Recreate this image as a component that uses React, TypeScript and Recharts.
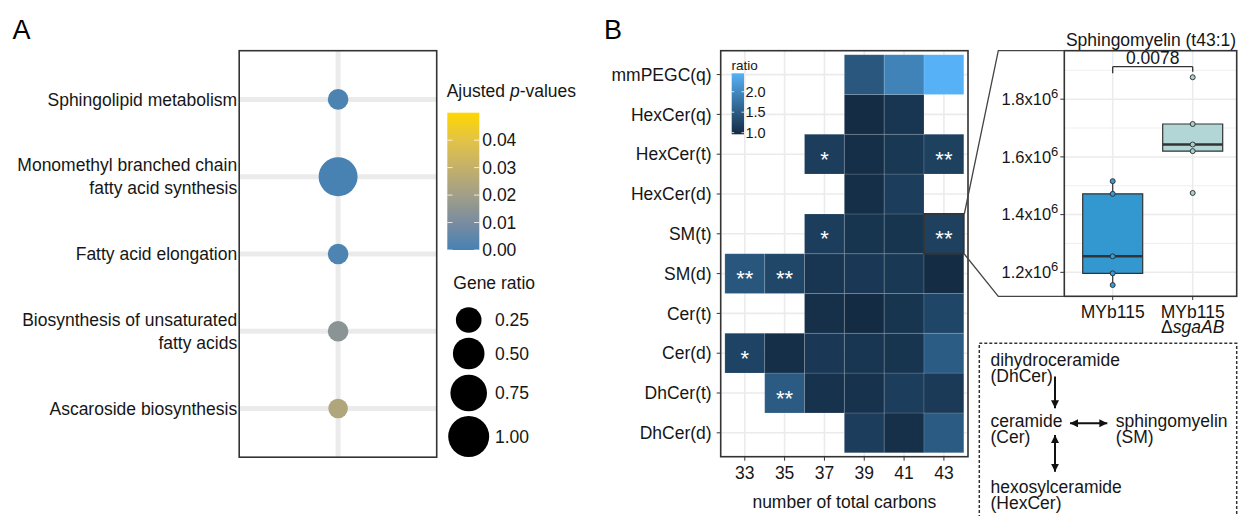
import React from "react";
import {
  ScatterChart,
  ComposedChart,
  Scatter,
  XAxis,
  YAxis,
  ZAxis,
  Cell,
  CartesianGrid,
  ReferenceArea,
  ReferenceLine,
} from "recharts";

const FONT = '"Liberation Sans", Arial, Helvetica, sans-serif';
const INK = "#161616";
const FRAME = "#333333";
const GRID = "#ebebeb";

// ---------- A: pathway enrichment ----------
const pathways = [
  "Sphingolipid metabolism",
  "Monomethyl branched chain\nfatty acid synthesis",
  "Fatty acid elongation",
  "Biosynthesis of unsaturated\nfatty acids",
  "Ascaroside biosynthesis",
];
const geneRatio = [0.08, 0.88, 0.08, 0.08, 0.05];
const adjP = [0.0012, 0.0003, 0.0015, 0.014, 0.024];
const pTicks = [0, 0.01, 0.02, 0.03, 0.04];
const ratioLegend = [0.25, 0.5, 0.75, 1.0];

// ---------- B: lipid heatmap (rows bottom -> top) ----------
const lipidClasses = [
  "DhCer(d)",
  "DhCer(t)",
  "Cer(d)",
  "Cer(t)",
  "SM(d)",
  "SM(t)",
  "HexCer(d)",
  "HexCer(t)",
  "HexCer(q)",
  "mmPEGC(q)",
];
const carbons = [33, 35, 37, 39, 41, 43];
const ratioDhCerD = [null, null, null, 1.17, 1.02, 1.49];
const ratioDhCerT = [null, 1.49, 1.04, 1.04, 1.16, 1.13];
const ratioCerD = [1.23, 1.01, 1.11, 1.08, 1.07, 1.5];
const ratioCerT = [null, null, 1.02, 0.97, 1.07, 1.26];
const ratioSMD = [1.44, 1.27, 1.08, 1.11, 1.1, 0.98];
const ratioSMT = [null, null, 1.17, 1.07, 1.07, 1.2];
const ratioHexCerD = [null, null, null, 1.01, 1.16, null];
const ratioHexCerT = [null, null, 1.16, 1.0, 1.1, 1.2];
const ratioHexCerQ = [null, null, null, 0.98, 1.08, null];
const ratioMmPEGCQ = [null, null, null, 1.45, 1.94, 2.45];
const ratioRows = [
  ratioDhCerD,
  ratioDhCerT,
  ratioCerD,
  ratioCerT,
  ratioSMD,
  ratioSMT,
  ratioHexCerD,
  ratioHexCerT,
  ratioHexCerQ,
  ratioMmPEGCQ,
];
const signif = [
  { cls: "HexCer(t)", carbon: 37, mark: "*" },
  { cls: "HexCer(t)", carbon: 43, mark: "**" },
  { cls: "SM(t)", carbon: 37, mark: "*" },
  { cls: "SM(t)", carbon: 43, mark: "**" },
  { cls: "SM(d)", carbon: 33, mark: "**" },
  { cls: "SM(d)", carbon: 35, mark: "**" },
  { cls: "Cer(d)", carbon: 33, mark: "*" },
  { cls: "DhCer(t)", carbon: 35, mark: "**" },
];
const zoomTile = { cls: "SM(t)", carbon: 43 };
const ratioTicks = [1.0, 1.5, 2.0];
const ratioDomain = [0.96, 2.45];

// ---------- B: SM(t43:1) boxplot ----------
const strains = ["MYb115", "MYb115"];
const deletions = ["", "sgaAB"];
const smWildtype = [1.516e6, 1.472e6, 1.2555e6, 1.1965e6, 1.156e6];
const smMutant = [1.876e6, 1.714e6, 1.643e6, 1.62e6, 1.475e6];
const smTicks = [1.2e6, 1.4e6, 1.6e6, 1.8e6];
const smMinor = [1.3e6, 1.5e6, 1.7e6, 1.9e6];
const pWilcox = "0.0078";

// ---------- helpers ----------
const hex = (c: string) => [1, 3, 5].map((i) => parseInt(c.slice(i, i + 2), 16));
const mix = (a: string, b: string, t: number) => {
  const k = Math.max(0, Math.min(1, t));
  const pa = hex(a);
  const pb = hex(b);
  return (
    "#" +
    pa
      .map((v, i) => Math.round(v + (pb[i] - v) * k).toString(16).padStart(2, "0"))
      .join("")
  );
};
const pStops: [number, string][] = [
  [0, "#4682B4"],
  [0.01, "#7a8c9f"],
  [0.02, "#a19f87"],
  [0.03, "#c4b06a"],
  [0.04, "#e3c346"],
  [0.05, "#FFD700"],
];
const pColor = (p: number) => {
  for (let i = 1; i < pStops.length; i++) {
    if (p <= pStops[i][0]) {
      const [p0, c0] = pStops[i - 1];
      const [p1, c1] = pStops[i];
      return mix(c0, c1, (p - p0) / (p1 - p0));
    }
  }
  return pStops[pStops.length - 1][1];
};
const HM_LOW = "#132B43";
const HM_HIGH = "#56B1F7";
const hmColor = (v: number) =>
  mix(HM_LOW, HM_HIGH, (v - ratioDomain[0]) / (ratioDomain[1] - ratioDomain[0]));

// gene ratio -> symbol area (same mapping for bubbles and legend)
const AREA_RANGE = [247, 1320];
const areaOf = (r: number) => AREA_RANGE[0] + r * (AREA_RANGE[1] - AREA_RANGE[0]);

const bubbles = pathways.map((_, i) => ({ x: 1, y: i + 1, ratio: geneRatio[i], p: adjP[i] }));

const rowOf = (cls: string) => lipidClasses.indexOf(cls) + 1;
const tiles = ratioRows.flatMap((row, r) =>
  row
    .map((v, j) => (v == null ? null : { x: carbons[j], y: r + 1, v }))
    .filter(Boolean)
) as { x: number; y: number; v: number }[];
const starPoints = signif.map((s) => ({ x: s.carbon, y: rowOf(s.cls), mark: s.mark }));

const quantile = (s: number[], q: number) => {
  const h = (s.length - 1) * q;
  const lo = Math.floor(h);
  return s[lo] + (h - lo) * ((s[lo + 1] ?? s[lo]) - s[lo]);
};
const boxStats = (vals: number[], x: number) => {
  const s = [...vals].sort((a, b) => a - b);
  const q1 = quantile(s, 0.25);
  const med = quantile(s, 0.5);
  const q3 = quantile(s, 0.75);
  const iqr = q3 - q1;
  const inside = s.filter((v) => v >= q1 - 1.5 * iqr && v <= q3 + 1.5 * iqr);
  return { x, q1, med, q3, lo: Math.min(...inside), hi: Math.max(...inside) };
};
const boxes = [boxStats(smWildtype, 1), boxStats(smMutant, 2)];
const boxFill = ["#3398cf", "#b2d6d6"];
const dotFill = ["#3a9bd6", "#a9d0d0"];
const smPoints = [
  ...smWildtype.map((y) => ({ x: 1, y })),
  ...smMutant.map((y) => ({ x: 2, y })),
];
const bracketY = 1.9126e6;

// ---------- ticks / marks ----------
function PathwayTick(props: any) {
  const { x, y, payload } = props;
  const lines = pathways[payload.value - 1].split("\n");
  return (
    <text textAnchor="end" fontSize={17.5} fill={INK}>
      {lines.map((l, i) => (
        <tspan key={i} x={x} y={y + (i - (lines.length - 1) / 2) * 23} dy="0.355em">
          {l}
        </tspan>
      ))}
    </text>
  );
}

function StarMark(props: any) {
  const { cx, cy, payload } = props;
  return (
    <text x={cx} y={cy + 12.5} textAnchor="middle" fontSize={22} fill="#ffffff">
      {payload.mark}
    </text>
  );
}

function SciTick(props: any) {
  const { x, y, payload } = props;
  const m = (payload.value / 1e6).toFixed(1);
  return (
    <text x={x} y={y} dy="0.355em" textAnchor="end" fontSize={16.5} fill={INK}>
      <tspan>{m}x10</tspan>
      <tspan dy={-7} fontSize={13}>
        6
      </tspan>
    </text>
  );
}

function StrainTick(props: any) {
  const { x, y, payload } = props;
  const i = payload.value - 1;
  return (
    <text textAnchor="middle" fontSize={17.5} fill={INK}>
      <tspan x={x} y={y + 16}>
        {strains[i]}
      </tspan>
      {deletions[i] && (
        <tspan x={x} y={y + 31}>
          Δ<tspan fontStyle="italic">{deletions[i]}</tspan>
        </tspan>
      )}
    </text>
  );
}

function SmDot(props: any) {
  const { cx, cy, payload } = props;
  return (
    <circle cx={cx} cy={cy} r={2.5} fill={dotFill[payload.x - 1]} stroke="#2a2a2a" strokeWidth={0.9} />
  );
}

// ---------- overlay geometry (frames, legends, annotations) ----------
const yP = (p: number) => 250 - (p / 0.05) * 137.3;
const yR = (v: number) => 134.3 - ((v - ratioDomain[0]) / (ratioDomain[1] - ratioDomain[0])) * 61;
const legendY = [320, 353.5, 393, 436.5];

function Overlay() {
  return (
    <svg
      width={1238}
      height={516}
      style={{ position: "absolute", left: 0, top: 0, pointerEvents: "none" }}
      fontFamily={FONT}
    >
      <defs>
        <linearGradient id="pgrad" x1="0" y1="1" x2="0" y2="0">
          {pStops.map(([p, c]) => (
            <stop key={p} offset={p / 0.05} stopColor={c} />
          ))}
        </linearGradient>
        <linearGradient id="rgrad" x1="0" y1="1" x2="0" y2="0">
          <stop offset={0} stopColor={HM_LOW} />
          <stop offset={1} stopColor={HM_HIGH} />
        </linearGradient>
        <marker
          id="head"
          markerUnits="userSpaceOnUse"
          markerWidth={9}
          markerHeight={9}
          refX={8}
          refY={4}
          orient="auto-start-reverse"
        >
          <path d="M0,0 L8,4 L0,8 z" fill="#111" />
        </marker>
      </defs>

      {/* panel letters */}
      <text x={12.5} y={38.5} fontSize={27} fill="#000">
        A
      </text>
      <text x={604} y={38.5} fontSize={27} fill="#000">
        B
      </text>

      {/* frames */}
      <rect x={239.2} y={50.7} width={197.5} height={406.5} fill="none" stroke={FRAME} strokeWidth={1.6} />
      <rect x={720.7} y={50.7} width={247.3} height={406} fill="none" stroke={FRAME} strokeWidth={1.6} />
      <rect x={1064.3} y={50.7} width={172.4} height={245.6} fill="none" stroke={FRAME} strokeWidth={1.6} />

      {/* A legends */}
      <text x={446.7} y={97.3} fontSize={17.5} fill={INK}>
        Ajusted <tspan fontStyle="italic">p</tspan>-values
      </text>
      <rect x={447.3} y={112.7} width={32} height={137.3} fill="url(#pgrad)" />
      {pTicks.map((p) => (
        <g key={p}>
          <line x1={447.3} x2={452.5} y1={yP(p)} y2={yP(p)} stroke="#fff" strokeWidth={0.8} />
          <line x1={474.1} x2={479.3} y1={yP(p)} y2={yP(p)} stroke="#fff" strokeWidth={0.8} />
          <text x={482.3} y={yP(p)} dy="0.355em" fontSize={17.5} fill={INK}>
            {p.toFixed(2)}
          </text>
        </g>
      ))}
      <text x={453.3} y={282.7} dy="0.355em" fontSize={17.5} fill={INK}>
        Gene ratio
      </text>
      {ratioLegend.map((r, i) => (
        <g key={r}>
          <circle cx={468.7} cy={legendY[i]} r={Math.sqrt(areaOf(r) / Math.PI)} fill="#000" />
          <text x={495} y={legendY[i]} dy="0.355em" fontSize={17.5} fill={INK}>
            {r.toFixed(2)}
          </text>
        </g>
      ))}

      {/* B heatmap legend */}
      <text x={731.5} y={69.5} fontSize={13.5} fill={INK}>
        ratio
      </text>
      <rect x={731.7} y={73.3} width={12.3} height={61} fill="url(#rgrad)" />
      {ratioTicks.map((v) => (
        <g key={v}>
          <line x1={731.7} x2={734.2} y1={yR(v)} y2={yR(v)} stroke="#fff" strokeWidth={0.8} />
          <line x1={741.5} x2={744} y1={yR(v)} y2={yR(v)} stroke="#fff" strokeWidth={0.8} />
          <text x={745.5} y={yR(v)} dy="0.355em" fontSize={14.5} fill={INK}>
            {v.toFixed(1)}
          </text>
        </g>
      ))}

      {/* zoom connectors */}
      <polyline points="964.3,214 998.3,50.7 1064.3,50.7" fill="none" stroke="#444" strokeWidth={1.3} />
      <polyline points="964.3,254 998.3,296.3 1064.3,296.3" fill="none" stroke="#444" strokeWidth={1.3} />

      {/* boxplot title and p value */}
      <text x={1151} y={46} textAnchor="middle" fontSize={17.5} fill={INK}>
        Sphingomyelin (t43:1)
      </text>
      <text x={1152.7} y={64.3} textAnchor="middle" fontSize={17.5} fill={INK}>
        {pWilcox}
      </text>

      {/* pathway sketch */}
      <rect
        x={979.3}
        y={343.3}
        width={257.4}
        height={200}
        fill="none"
        stroke="#333"
        strokeWidth={1.5}
        strokeDasharray="3 2"
      />
      <g fontSize={17.5} fill={INK}>
        <text x={990.5} y={366}>dihydroceramide</text>
        <text x={990.5} y={382}>(DhCer)</text>
        <text x={990.5} y={427}>ceramide</text>
        <text x={990.5} y={443}>(Cer)</text>
        <text x={1115.7} y={427}>sphingomyelin</text>
        <text x={1115.7} y={443}>(SM)</text>
        <text x={990.5} y={492.5}>hexosylceramide</text>
        <text x={990.5} y={508.5}>(HexCer)</text>
      </g>
      <g stroke="#111" strokeWidth={2}>
        <line x1={1055} y1={376.5} x2={1055} y2={408.3} markerEnd="url(#head)" />
        <line x1={1070} y1={423.3} x2={1107.3} y2={423.3} markerStart="url(#head)" markerEnd="url(#head)" />
        <line x1={1055} y1={435} x2={1055} y2={471.7} markerStart="url(#head)" markerEnd="url(#head)" />
      </g>
    </svg>
  );
}

export default function App() {
  return (
    <div
      style={{
        position: "absolute",
        left: 0,
        top: 0,
        width: 1238,
        height: 516,
        background: "#fff",
        fontFamily: FONT,
        overflow: "hidden",
      }}
    >
      {/* A */}
      <div style={{ position: "absolute", left: 0, top: 0 }}>
        <ScatterChart width={460} height={470} margin={{ top: 50.7, right: 23, bottom: 12.8, left: 0 }}>
          <CartesianGrid
            stroke={GRID}
            strokeWidth={5}
            horizontalValues={[1, 2, 3, 4, 5]}
            verticalValues={[1]}
          />
          <XAxis type="number" dataKey="x" domain={[0.4, 1.6]} ticks={[1]} hide />
          <YAxis
            type="number"
            dataKey="y"
            domain={[0.37, 5.63]}
            ticks={[1, 2, 3, 4, 5]}
            interval={0}
            reversed
            width={239.2}
            axisLine={false}
            tickLine={false}
            tickSize={0}
            tickMargin={2}
            tick={<PathwayTick />}
          />
          <ZAxis type="number" dataKey="ratio" domain={[0, 1]} range={AREA_RANGE} />
          <Scatter data={bubbles} isAnimationActive={false}>
            {bubbles.map((b, i) => (
              <Cell key={i} fill={pColor(b.p)} />
            ))}
          </Scatter>
        </ScatterChart>
      </div>

      {/* B heatmap */}
      <div style={{ position: "absolute", left: 600, top: 0 }}>
        <ScatterChart width={380} height={516} margin={{ top: 50.7, right: 12, bottom: 0, left: 0 }}>
          <CartesianGrid
            stroke={GRID}
            strokeWidth={1.6}
            horizontalValues={lipidClasses.map((_, i) => i + 1)}
            verticalValues={carbons}
          />
          <XAxis
            type="number"
            dataKey="x"
            domain={[31.79, 44.21]}
            ticks={carbons}
            interval={0}
            height={59.3}
            axisLine={false}
            tickSize={4}
            tickMargin={6.3}
            tickLine={{ stroke: FRAME }}
            tick={{ fontSize: 17.5, fill: INK }}
            label={{
              value: "number of total carbons",
              position: "insideBottom",
              offset: 8.5,
              fontSize: 17.5,
              fill: INK,
            }}
          />
          <YAxis
            type="number"
            dataKey="y"
            domain={[0.4, 10.6]}
            ticks={lipidClasses.map((_, i) => i + 1)}
            interval={0}
            width={120.7}
            axisLine={false}
            tickSize={4}
            tickMargin={5}
            tickLine={{ stroke: FRAME }}
            tick={{ fontSize: 17.5, fill: INK }}
            tickFormatter={(v: number) => lipidClasses[v - 1]}
          />
          {tiles.map((t) => (
            <ReferenceArea
              key={`${t.x}-${t.y}`}
              x1={t.x - 1}
              x2={t.x + 1}
              y1={t.y - 0.5}
              y2={t.y + 0.5}
              fill={hmColor(t.v)}
              fillOpacity={1}
              stroke="#ffffff"
              strokeOpacity={0.14}
              strokeWidth={1}
            />
          ))}
          <ReferenceArea
            x1={zoomTile.carbon - 1}
            x2={zoomTile.carbon + 1}
            y1={rowOf(zoomTile.cls) - 0.5}
            y2={rowOf(zoomTile.cls) + 0.5}
            fill="none"
            fillOpacity={0}
            stroke={FRAME}
            strokeWidth={1.7}
          />
          <Scatter data={starPoints} isAnimationActive={false} shape={<StarMark />} />
        </ScatterChart>
      </div>

      {/* B boxplot */}
      <div style={{ position: "absolute", left: 980, top: 0 }}>
        <ComposedChart width={258} height={340} margin={{ top: 50.7, right: 1.3, bottom: 0, left: 0 }}>
          <CartesianGrid stroke={GRID} strokeWidth={0.8} horizontalValues={smMinor} vertical={false} />
          <CartesianGrid stroke={GRID} strokeWidth={1.5} horizontalValues={smTicks} verticalValues={[1, 2]} />
          <XAxis
            type="number"
            dataKey="x"
            domain={[0.395, 2.55]}
            ticks={[1, 2]}
            interval={0}
            height={44}
            axisLine={false}
            tickSize={4}
            tickMargin={2}
            tickLine={{ stroke: FRAME }}
            tick={<StrainTick />}
          />
          <YAxis
            type="number"
            dataKey="y"
            domain={[1.118e6, 1.968e6]}
            ticks={smTicks}
            interval={0}
            width={84.3}
            axisLine={false}
            tickSize={4}
            tickMargin={2}
            tickLine={{ stroke: FRAME }}
            tick={<SciTick />}
          />
          {boxes.flatMap((b, i) => [
            <ReferenceLine
              key={`wl${i}`}
              segment={[
                { x: b.x, y: b.lo },
                { x: b.x, y: b.q1 },
              ]}
              stroke={FRAME}
              strokeWidth={1.2}
            />,
            <ReferenceLine
              key={`wh${i}`}
              segment={[
                { x: b.x, y: b.q3 },
                { x: b.x, y: b.hi },
              ]}
              stroke={FRAME}
              strokeWidth={1.2}
            />,
            <ReferenceArea
              key={`bx${i}`}
              x1={b.x - 0.375}
              x2={b.x + 0.375}
              y1={b.q1}
              y2={b.q3}
              fill={boxFill[i]}
              fillOpacity={1}
              stroke={FRAME}
              strokeWidth={1.2}
            />,
            <ReferenceLine
              key={`md${i}`}
              segment={[
                { x: b.x - 0.375, y: b.med },
                { x: b.x + 0.375, y: b.med },
              ]}
              stroke={FRAME}
              strokeWidth={2.6}
            />,
          ])}
          <ReferenceLine
            segment={[
              { x: 1, y: 1.8897e6 },
              { x: 1, y: bracketY },
            ]}
            stroke={FRAME}
            strokeWidth={1.3}
          />
          <ReferenceLine
            segment={[
              { x: 1, y: bracketY },
              { x: 2, y: bracketY },
            ]}
            stroke={FRAME}
            strokeWidth={1.3}
          />
          <ReferenceLine
            segment={[
              { x: 2, y: 1.8953e6 },
              { x: 2, y: bracketY },
            ]}
            stroke={FRAME}
            strokeWidth={1.3}
          />
          <Scatter data={smPoints} dataKey="y" isAnimationActive={false} shape={<SmDot />} />
        </ComposedChart>
      </div>

      <Overlay />
    </div>
  );
}
